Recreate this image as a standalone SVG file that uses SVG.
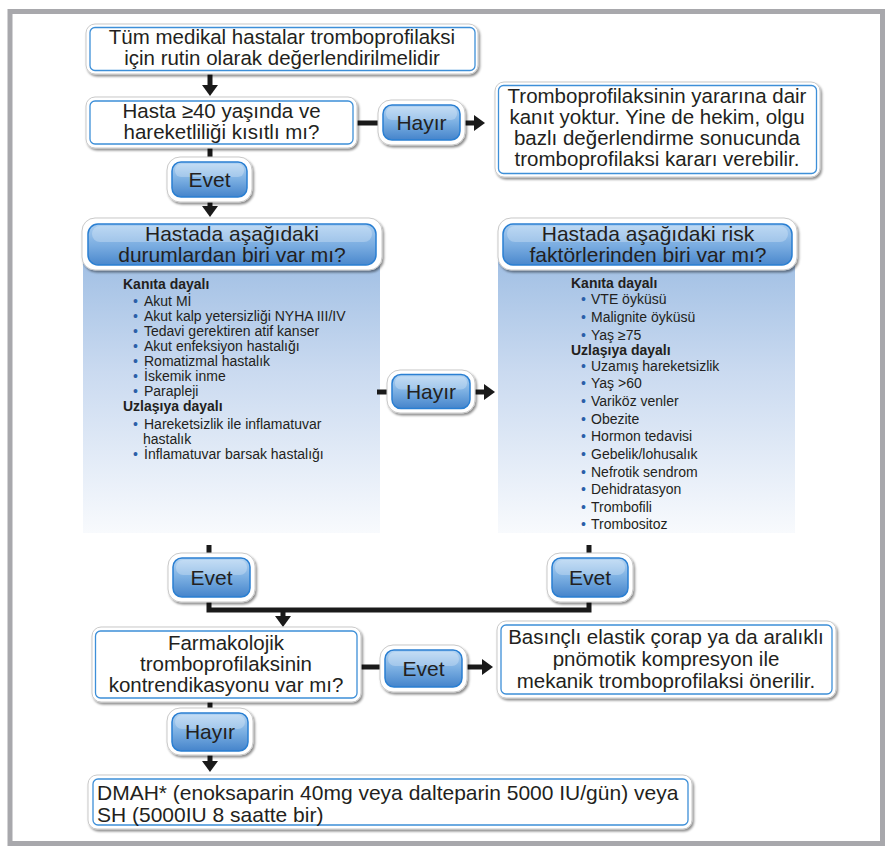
<svg xmlns="http://www.w3.org/2000/svg" width="885" height="847" viewBox="0 0 885 847">
<defs>
<style>
.t{font-family:"Liberation Sans",Arial,sans-serif;fill:#231f20}
.bx{font-size:20.5px;text-anchor:middle}
.hd{font-size:21px;text-anchor:middle}
.bt{font-size:21px;text-anchor:middle}
.li{font-size:14px}
.lb{font-size:14px;font-weight:bold}
.bu{fill:#2b5ea8}
.outer{fill:#fff;stroke:#c9c9c9;stroke-width:1;filter:url(#sh)}
.inner{fill:#fff;stroke:#3d8fd8;stroke-width:1.3}
.btn{fill:url(#gb);stroke:#2a7fd2;stroke-width:1.5}
.hdr{fill:url(#gh);stroke:#2a7fd2;stroke-width:1.5}
.gloss{fill:#fff;opacity:0.25}
.c{fill:none;stroke:#1a1a1a;stroke-width:5}
.ca{fill:none;stroke:#1a1a1a;stroke-width:5;marker-end:url(#ah)}
</style>
<filter id="sh" x="-10%" y="-20%" width="120%" height="150%">
<feDropShadow dx="1.5" dy="2" stdDeviation="1.3" flood-color="#000" flood-opacity="0.45"/>
</filter>
<linearGradient id="gb" x1="0" y1="0" x2="0" y2="1">
<stop offset="0" stop-color="#b4d4f2"/>
<stop offset="0.5" stop-color="#7bafe2"/>
<stop offset="1" stop-color="#4584cb"/>
</linearGradient>
<linearGradient id="gh" x1="0" y1="0" x2="0" y2="1">
<stop offset="0" stop-color="#a9cdf0"/>
<stop offset="0.55" stop-color="#78abe0"/>
<stop offset="1" stop-color="#4a88cd"/>
</linearGradient>
<linearGradient id="gp" x1="0" y1="0" x2="0" y2="1">
<stop offset="0" stop-color="#9abbe2"/>
<stop offset="0.45" stop-color="#cadaf0"/>
<stop offset="1" stop-color="#f8fafd"/>
</linearGradient>
<marker id="ah" viewBox="0 0 11 16" refX="0" refY="8" markerWidth="11" markerHeight="16" markerUnits="userSpaceOnUse" orient="auto">
<path d="M0,0 L11,8 L0,16 Z" fill="#1a1a1a"/>
</marker>
</defs>

<rect x="10" y="11.5" width="872.5" height="832" fill="#fff" stroke="#a8a8ac" stroke-width="5"/>

<g id="panels">
<rect x="83" y="240" width="297" height="293" fill="url(#gp)"/>
<rect x="498" y="240" width="297" height="293" fill="url(#gp)"/>
</g>

<g id="connectors">
<path class="ca" d="M210,74 V85"/>
<path class="c" d="M357,123 H378"/>
<path class="ca" d="M465,123 H474"/>
<path class="c" d="M210,148 V157"/>
<path class="ca" d="M210,202 V206"/>
<path class="c" d="M377,392 H387"/>
<path class="ca" d="M475,392 H484"/>
<path class="c" d="M209,545 V553"/>
<path class="c" d="M589,545 V553"/>
<path class="c" d="M209,602 V610 H589 V602"/>
<path class="ca" d="M283,610 V616"/>
<path class="c" d="M361,667 H380"/>
<path class="ca" d="M467,667 H482"/>
<path class="c" d="M210,702 V708"/>
<path class="ca" d="M210,755 V761"/>
</g>

<g id="n1">
<rect class="outer" x="86" y="24" width="392" height="50" rx="9"/>
<rect class="inner" x="90" y="27.5" width="385" height="43" rx="5"/>
<text class="t bx" x="282" y="44">Tüm medikal hastalar tromboprofilaksi</text>
<text class="t bx" x="282" y="65">için rutin olarak değerlendirilmelidir</text>
</g>

<g id="n2">
<rect class="outer" x="86" y="97" width="271" height="51" rx="9"/>
<rect class="inner" x="90" y="101" width="263" height="43" rx="5"/>
<text class="t bx" x="221.5" y="118">Hasta ≥40 yaşında ve</text>
<text class="t bx" x="221.5" y="139">hareketliliği kısıtlı mı?</text>
</g>

<g id="b_hayir1">
<rect class="outer" x="378" y="100" width="87" height="45" rx="13"/>
<rect class="btn" x="383" y="105" width="77" height="35" rx="9"/>
<rect class="gloss" x="386" y="107" width="71" height="13" rx="6"/>
<text class="t bt" x="421.5" y="130">Hayır</text>
</g>

<g id="n3">
<rect class="outer" x="495" y="82" width="325" height="95" rx="9"/>
<rect class="inner" x="498.5" y="85.5" width="318" height="88" rx="5"/>
<text class="t bx" x="657" y="103">Tromboprofilaksinin yararına dair</text>
<text class="t bx" x="657" y="124">kanıt yoktur. Yine de hekim, olgu</text>
<text class="t bx" x="657" y="145">bazlı değerlendirme sonucunda</text>
<text class="t bx" x="657" y="166">tromboprofilaksi kararı verebilir.</text>
</g>

<g id="b_evet1">
<rect class="outer" x="167" y="157" width="85" height="45" rx="13"/>
<rect class="btn" x="172" y="162" width="75" height="35" rx="9"/>
<rect class="gloss" x="175" y="164" width="69" height="13" rx="6"/>
<text class="t bt" x="209.5" y="187">Evet</text>
</g>

<g id="n4">
<rect class="outer" x="82" y="218" width="300" height="52" rx="13"/>
<rect class="hdr" x="88" y="224" width="288" height="41" rx="10"/>
<rect class="gloss" x="92" y="226" width="280" height="16" rx="8"/>
<text class="t hd" x="232" y="241">Hastada aşağıdaki</text>
<text class="t hd" x="232" y="262">durumlardan biri var mı?</text>
<text class="t lb" x="123" y="289">Kanıta dayalı</text>
<text class="t li" x="133" y="306"><tspan class="bu">•</tspan><tspan x="144">Akut Mİ</tspan></text>
<text class="t li" x="133" y="321"><tspan class="bu">•</tspan><tspan x="144">Akut kalp yetersizliği NYHA III/IV</tspan></text>
<text class="t li" x="133" y="336"><tspan class="bu">•</tspan><tspan x="144">Tedavi gerektiren atif kanser</tspan></text>
<text class="t li" x="133" y="351"><tspan class="bu">•</tspan><tspan x="144">Akut enfeksiyon hastalığı</tspan></text>
<text class="t li" x="133" y="366"><tspan class="bu">•</tspan><tspan x="144">Romatizmal hastalık</tspan></text>
<text class="t li" x="133" y="381"><tspan class="bu">•</tspan><tspan x="144">İskemik inme</tspan></text>
<text class="t li" x="133" y="396"><tspan class="bu">•</tspan><tspan x="144">Parapleji</tspan></text>
<text class="t lb" x="123" y="411">Uzlaşıya dayalı</text>
<text class="t li" x="133" y="429"><tspan class="bu">•</tspan><tspan x="144">Hareketsizlik ile inflamatuvar</tspan></text>
<text class="t li" x="143" y="444">hastalık</text>
<text class="t li" x="133" y="459"><tspan class="bu">•</tspan><tspan x="144">İnflamatuvar barsak hastalığı</tspan></text>
</g>

<g id="n5">
<rect class="outer" x="498" y="218" width="299" height="52" rx="13"/>
<rect class="hdr" x="503" y="224" width="289" height="41" rx="10"/>
<rect class="gloss" x="507" y="226" width="281" height="16" rx="8"/>
<text class="t hd" x="648" y="241">Hastada aşağıdaki risk</text>
<text class="t hd" x="648" y="262">faktörlerinden biri var mı?</text>
<text class="t lb" x="571" y="288">Kanıta dayalı</text>
<text class="t li" x="581" y="304"><tspan class="bu">•</tspan><tspan x="591">VTE öyküsü</tspan></text>
<text class="t li" x="581" y="322"><tspan class="bu">•</tspan><tspan x="591">Malignite öyküsü</tspan></text>
<text class="t li" x="581" y="340"><tspan class="bu">•</tspan><tspan x="591">Yaş ≥75</tspan></text>
<text class="t lb" x="571" y="355">Uzlaşıya dayalı</text>
<text class="t li" x="581" y="371"><tspan class="bu">•</tspan><tspan x="591">Uzamış hareketsizlik</tspan></text>
<text class="t li" x="581" y="388"><tspan class="bu">•</tspan><tspan x="591">Yaş &gt;60</tspan></text>
<text class="t li" x="581" y="406"><tspan class="bu">•</tspan><tspan x="591">Variköz venler</tspan></text>
<text class="t li" x="581" y="424"><tspan class="bu">•</tspan><tspan x="591">Obezite</tspan></text>
<text class="t li" x="581" y="441"><tspan class="bu">•</tspan><tspan x="591">Hormon tedavisi</tspan></text>
<text class="t li" x="581" y="459"><tspan class="bu">•</tspan><tspan x="591">Gebelik/lohusalık</tspan></text>
<text class="t li" x="581" y="477"><tspan class="bu">•</tspan><tspan x="591">Nefrotik sendrom</tspan></text>
<text class="t li" x="581" y="494"><tspan class="bu">•</tspan><tspan x="591">Dehidratasyon</tspan></text>
<text class="t li" x="581" y="512"><tspan class="bu">•</tspan><tspan x="591">Trombofili</tspan></text>
<text class="t li" x="581" y="529"><tspan class="bu">•</tspan><tspan x="591">Trombositoz</tspan></text>
</g>

<g id="b_hayir2">
<rect class="outer" x="387" y="370" width="88" height="43" rx="13"/>
<rect class="btn" x="392" y="374.5" width="78" height="34" rx="9"/>
<rect class="gloss" x="395" y="376.5" width="72" height="13" rx="6"/>
<text class="t bt" x="431" y="399">Hayır</text>
</g>

<g id="b_evet2">
<rect class="outer" x="168" y="553" width="87" height="49" rx="13"/>
<rect class="btn" x="173" y="558" width="77" height="39" rx="9"/>
<rect class="gloss" x="176" y="560" width="71" height="15" rx="7"/>
<text class="t bt" x="211.5" y="585">Evet</text>
</g>

<g id="b_evet3">
<rect class="outer" x="547" y="553" width="86" height="49" rx="13"/>
<rect class="btn" x="552" y="558" width="76" height="39" rx="9"/>
<rect class="gloss" x="555" y="560" width="70" height="15" rx="7"/>
<text class="t bt" x="590" y="585">Evet</text>
</g>

<g id="n6">
<rect class="outer" x="92" y="627" width="269" height="75" rx="9"/>
<rect class="inner" x="95.5" y="631" width="261.5" height="67" rx="5"/>
<text class="t bx" x="226" y="650">Farmakolojik</text>
<text class="t bx" x="226" y="671">tromboprofilaksinin</text>
<text class="t bx" x="226" y="692">kontrendikasyonu var mı?</text>
</g>

<g id="b_evet4">
<rect class="outer" x="380" y="645" width="87" height="47" rx="13"/>
<rect class="btn" x="385" y="650" width="77" height="37" rx="9"/>
<rect class="gloss" x="388" y="652" width="71" height="14" rx="7"/>
<text class="t bt" x="423.5" y="676">Evet</text>
</g>

<g id="n7">
<rect class="outer" x="497" y="621" width="339" height="77" rx="9"/>
<rect class="inner" x="501" y="625" width="331" height="69" rx="5"/>
<text class="t bx" x="666" y="644">Basınçlı elastik çorap ya da aralıklı</text>
<text class="t bx" x="666" y="666">pnömotik kompresyon ile</text>
<text class="t bx" x="666" y="688">mekanik tromboprofilaksi önerilir.</text>
</g>

<g id="b_hayir3">
<rect class="outer" x="167" y="708" width="86" height="47" rx="13"/>
<rect class="btn" x="172" y="713" width="76" height="38" rx="9"/>
<rect class="gloss" x="175" y="715" width="70" height="14" rx="7"/>
<text class="t bt" x="210" y="739">Hayır</text>
</g>

<g id="n8">
<rect class="outer" x="88" y="775" width="604" height="54" rx="9"/>
<rect class="inner" x="93" y="779" width="595" height="46" rx="5"/>
<text class="t" x="97" y="800" style="font-size:21px">DMAH* (enoksaparin 40mg veya dalteparin 5000 IU/gün) veya</text>
<text class="t" x="97" y="822" style="font-size:21px">SH (5000IU 8 saatte bir)</text>
</g>
</svg>
